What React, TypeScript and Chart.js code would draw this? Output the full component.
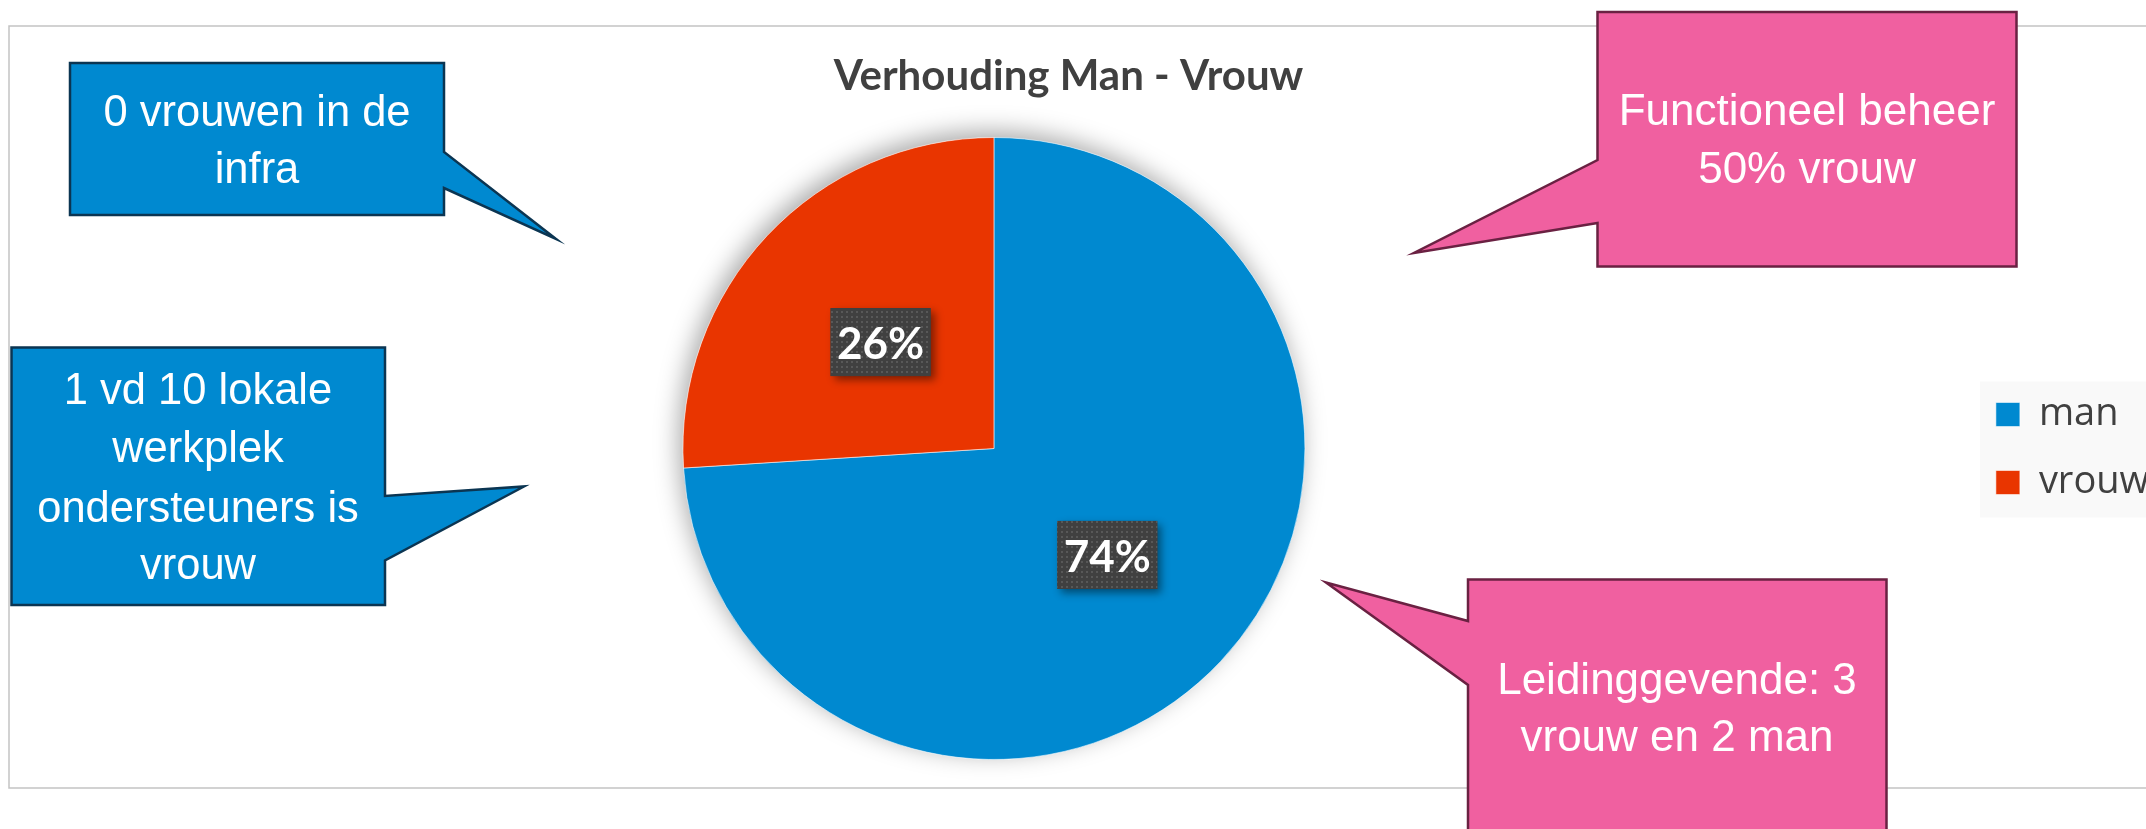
import React, { useEffect, useRef } from 'react';
import { Chart, registerables, layouts } from 'chart.js';

Chart.register(...registerables);

// ---- data ----
const categories = ['man', 'vrouw'];
const shares = [74, 26];
const sliceColors = ['#0089D0', '#E93500'];
const chartTitle = 'Verhouding Man - Vrouw';

// ---- annotation callouts (decoration, not data) ----
type Callout = {
  lines: string[];
  fill: string;
  stroke: string;
  size: number;
  cx: number;
  baselines: number[];
  maxW: number;
  poly: number[][];
};

const CALLOUTS: Callout[] = [
  {
    lines: ['0 vrouwen in de', 'infra'],
    fill: '#0089D0',
    stroke: '#0B3552',
    size: 43.5,
    cx: 257,
    baselines: [126, 183],
    maxW: 354,
    poly: [[70, 63], [444, 63], [444, 152], [556, 239], [444, 188], [444, 215], [70, 215]],
  },
  {
    lines: ['1 vd 10 lokale', 'werkplek', 'ondersteuners is', 'vrouw'],
    fill: '#0089D0',
    stroke: '#0B3552',
    size: 43.5,
    cx: 198,
    baselines: [404, 462, 521.5, 578.5],
    maxW: 355,
    poly: [[11.5, 347.5], [385, 347.5], [385, 496], [524, 486.5], [385, 560.5], [385, 605], [11.5, 605]],
  },
  {
    lines: ['Functioneel beheer', '50% vrouw'],
    fill: '#F060A0',
    stroke: '#6A2142',
    size: 44,
    cx: 1807,
    baselines: [125, 183],
    maxW: 400,
    poly: [[1597.5, 12], [2016.5, 12], [2016.5, 266.5], [1597.5, 266.5], [1597.5, 223], [1414, 253], [1597.5, 160]],
  },
  {
    lines: ['Leidinggevende: 3', 'vrouw en 2 man'],
    fill: '#F060A0',
    stroke: '#6A2142',
    size: 44,
    cx: 1677,
    baselines: [693.5, 751],
    maxW: 400,
    poly: [[1468, 579.5], [1886.5, 579.5], [1886.5, 900], [1468, 900], [1468, 685], [1326, 582.5], [1468, 621]],
  },
];

const spacerPlugin = {
  id: 'leftSpacer',
  beforeInit(chart: any) {
    layouts.addBox(chart, {
      position: 'left',
      weight: 0,
      fullSize: false,
      options: {},
      left: 0,
      top: 0,
      right: 0,
      bottom: 0,
      width: 0,
      height: 0,
      isHorizontal() {
        return false;
      },
      update(_maxWidth: number, maxHeight: number) {
        this.width = 44;
        this.height = maxHeight;
      },
      draw() {},
    } as any);
  },
};

let dotPattern: CanvasPattern | null = null;
function getPattern(ctx: CanvasRenderingContext2D) {
  if (dotPattern) return dotPattern;
  const c = document.createElement('canvas');
  c.width = 5;
  c.height = 5;
  const p = c.getContext('2d')!;
  p.fillStyle = '#404040';
  p.fillRect(0, 0, 5, 5);
  p.fillStyle = '#585858';
  p.fillRect(1, 1, 2, 2);
  dotPattern = ctx.createPattern(c, 'repeat');
  return dotPattern;
}

const decorPlugin = {
  id: 'decor',
  beforeDraw(chart: any) {
    const ctx: CanvasRenderingContext2D = chart.ctx;
    ctx.save();
    ctx.fillStyle = '#ffffff';
    ctx.fillRect(0, 0, chart.width, chart.height);
    ctx.strokeStyle = '#C3C3C3';
    ctx.lineWidth = 1.5;
    ctx.strokeRect(9, 26, chart.width + 40, 762);
    const hb = chart.legend && chart.legend.legendHitBoxes;
    if (hb && hb.length) {
      const last = hb[hb.length - 1];
      const top = hb[0].top - 14;
      const bottom = last.top + last.height + 16;
      ctx.fillStyle = '#F9F9F9';
      ctx.fillRect(hb[0].left - 16, top, chart.width, bottom - top);
    }
    ctx.restore();
  },
  beforeDatasetsDraw(chart: any) {
    const arc = chart.getDatasetMeta(0).data[0];
    if (!arc) return;
    const { x, y, outerRadius } = arc.getProps(['x', 'y', 'outerRadius'], true);
    const ctx: CanvasRenderingContext2D = chart.ctx;
    ctx.save();
    ctx.shadowColor = 'rgba(0,0,0,0.34)';
    ctx.shadowBlur = 24;
    ctx.shadowOffsetX = -4;
    ctx.shadowOffsetY = -6;
    ctx.fillStyle = '#ffffff';
    ctx.beginPath();
    ctx.arc(x, y, outerRadius, 0, Math.PI * 2);
    ctx.fill();
    ctx.restore();
  },
  afterDatasetsDraw(chart: any) {
    const ctx: CanvasRenderingContext2D = chart.ctx;
    const meta = chart.getDatasetMeta(0);
    const values = chart.data.datasets[0].data as number[];
    const total = values.reduce((a, b) => a + b, 0);
    meta.data.forEach((el: any, i: number) => {
      const pt = el.getCenterPoint(true);
      const w = 100;
      const h = 68;
      const bx = pt.x - w / 2;
      const by = pt.y - h / 2;
      ctx.save();
      ctx.shadowColor = 'rgba(0,0,0,0.45)';
      ctx.shadowBlur = 8;
      ctx.shadowOffsetX = 4;
      ctx.shadowOffsetY = 4;
      ctx.fillStyle = '#404040';
      ctx.fillRect(bx, by, w, h);
      ctx.restore();
      ctx.save();
      const pat = getPattern(ctx);
      if (pat) {
        ctx.fillStyle = pat;
        ctx.fillRect(bx, by, w, h);
      }
      ctx.fillStyle = '#ffffff';
      ctx.font = 'bold 44px Lato, "Open Sans", sans-serif';
      ctx.textAlign = 'center';
      ctx.textBaseline = 'middle';
      ctx.fillText(Math.round((values[i] / total) * 100) + '%', pt.x, pt.y + 3);
      ctx.restore();
    });
  },
  afterDraw(chart: any) {
    const ctx: CanvasRenderingContext2D = chart.ctx;
    CALLOUTS.forEach((c) => {
      ctx.save();
      ctx.beginPath();
      c.poly.forEach(([px, py], i) => (i === 0 ? ctx.moveTo(px, py) : ctx.lineTo(px, py)));
      ctx.closePath();
      ctx.fillStyle = c.fill;
      ctx.fill();
      ctx.lineWidth = 2.5;
      ctx.lineJoin = 'miter';
      ctx.strokeStyle = c.stroke;
      ctx.stroke();
      ctx.fillStyle = '#ffffff';
      ctx.font = `${c.size}px "Liberation Sans", Arial, sans-serif`;
      ctx.textAlign = 'center';
      ctx.textBaseline = 'alphabetic';
      c.lines.forEach((line, i) => ctx.fillText(line, c.cx, c.baselines[i], c.maxW));
      ctx.restore();
    });
  },
};

export default function App() {
  const ref = useRef<HTMLCanvasElement | null>(null);
  useEffect(() => {
    if (!ref.current) return;
    const chart = new Chart(ref.current, {
      type: 'pie',
      data: {
        labels: categories,
        datasets: [
          {
            data: shares,
            backgroundColor: sliceColors,
            borderColor: 'rgba(255,255,255,0.55)',
            borderWidth: 1,
            hoverOffset: 0,
            offset: 0,
          },
        ],
      },
      options: {
        responsive: false,
        animation: false,
        events: [],
        layout: { padding: { left: -22, right: -13, top: 0, bottom: 69 } },
        plugins: {
          title: {
            display: true,
            text: chartTitle,
            color: '#404040',
            fullSize: true,
            font: { family: 'Lato, "Open Sans", sans-serif', size: 42, weight: 'bold' },
            padding: { top: 51.5, bottom: 35.1 },
          },
          legend: {
            position: 'right',
            fullSize: false,
            labels: {
              boxWidth: 24,
              boxHeight: 24,
              padding: 30,
              color: '#404040',
              font: { family: '"Open Sans", sans-serif', size: 38 },
            },
          },
          tooltip: { enabled: false },
        },
      } as any,
      plugins: [spacerPlugin, decorPlugin],
    });
    return () => chart.destroy();
  }, []);
  return (
    <div
      style={{
        position: 'fixed',
        left: 0,
        top: 0,
        width: 2146,
        height: 829,
        overflow: 'hidden',
        background: '#ffffff',
      }}
    >
      <canvas ref={ref} width={2146} height={829} style={{ display: 'block', width: 2146, height: 829 }} />
    </div>
  );
}
